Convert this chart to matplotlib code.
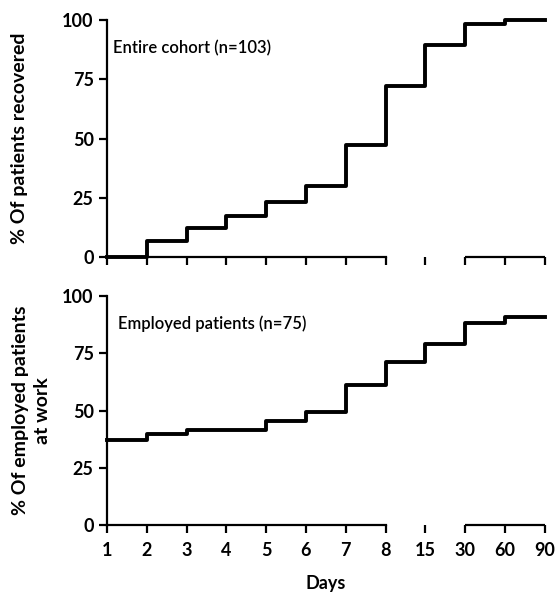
import matplotlib
matplotlib.use("Agg")
import matplotlib.pyplot as plt

plt.rcParams['font.family'] = ['Lato', 'DejaVu Sans']

# days on a categorical axis
day_labels = ["1", "2", "3", "4", "5", "6", "7", "8", "15", "30", "60", "90"]
recovered = [0, 6.8, 12.4, 17.4, 23.3, 30.1, 47.3, 72.2, 89.7, 98.5, 100, 100]
at_work = [37.2, 39.9, 41.5, 41.5, 45.4, 49.5, 61.0, 71.4, 79.1, 88.3, 91.0, 91.0]

pos = list(range(1, len(day_labels) + 1))

fig = plt.figure(figsize=(5.57, 5.92), dpi=100)
ax1 = fig.add_axes([0.192, 0.566, 0.786, 0.400])
ax2 = fig.add_axes([0.192, 0.113, 0.786, 0.387])


def style_axis(ax, show_labels):
    ax.set_xlim(1, 12)
    ax.set_ylim(0, 100)
    ax.set_yticks([0, 25, 50, 75, 100])
    ax.set_xticks(pos)
    if show_labels:
        ax.set_xticklabels(day_labels)
    else:
        ax.set_xticklabels([])
    for s in ["top", "right"]:
        ax.spines[s].set_visible(False)
    ax.spines["left"].set_linewidth(1.6)
    ax.spines["bottom"].set_linewidth(1.6)
    # broken x axis: 1..8 and 30..90
    ax.spines["bottom"].set_bounds(1, 8)
    ax.hlines(0, 10, 12, color="black", lw=1.6, clip_on=False, zorder=3)
    ax.tick_params(direction="out", length=6, width=1.6, labelsize=13)
    ax.tick_params(axis="x", pad=6)
    for lab in ax.get_xticklabels() + ax.get_yticklabels():
        lab.set_fontweight("bold")


ax1.step(pos, recovered, where="post", color="black", lw=2.8, clip_on=False, zorder=4)
style_axis(ax1, False)
ax1.set_ylabel("% Of patients recovered", fontsize=14, fontweight="bold", labelpad=25)
ax1.text(0.014, 0.88, "Entire cohort (n=103)", transform=ax1.transAxes,
         fontsize=12, fontweight="semibold", va="center", ha="left")

ax2.step(pos, at_work, where="post", color="black", lw=2.8, clip_on=False, zorder=4)
style_axis(ax2, True)
ax2.set_ylabel("% Of employed patients\nat work", fontsize=14, fontweight="bold",
               labelpad=8, linespacing=1.35)
ax2.text(0.025, 0.88, "Employed patients (n=75)", transform=ax2.transAxes,
         fontsize=12, fontweight="semibold", va="center", ha="left")
ax2.set_xlabel("Days", fontsize=13, fontweight="bold", labelpad=12)

fig.savefig("out.png", dpi=100)
